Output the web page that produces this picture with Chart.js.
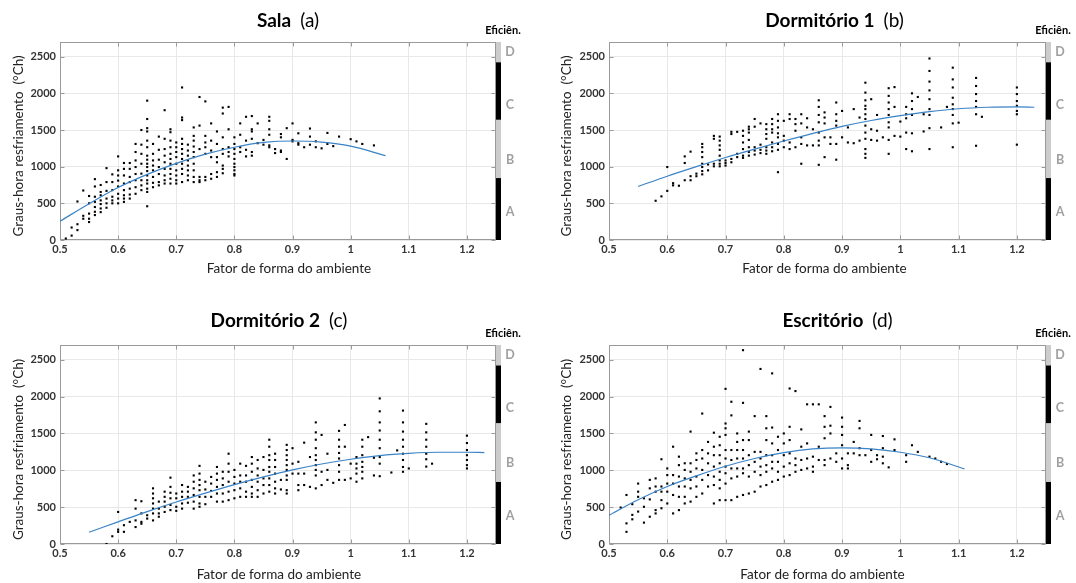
<!DOCTYPE html>
<html><head><meta charset="utf-8">
<script src="https://cdn.jsdelivr.net/npm/chart.js@4.4.0/dist/chart.umd.min.js"></script>
<style>
html,body{margin:0;padding:0;background:#fff;width:1076px;height:583px;overflow:hidden}
canvas{position:absolute;display:block}
</style></head><body>
<canvas id="ca" width="540" height="292" style="left:0;top:0"></canvas>
<canvas id="cb" width="528" height="292" style="left:548px;top:0"></canvas>
<canvas id="cc" width="540" height="279" style="left:0;top:304px"></canvas>
<canvas id="cd" width="528" height="279" style="left:548px;top:304px"></canvas>
<script>
// ---------- shared axes ----------
const xTicks = [0.5, 0.6, 0.7, 0.8, 0.9, 1.0, 1.1, 1.2];
const yTicks = [0, 500, 1000, 1500, 2000, 2500];
const effLabels = ['A', 'B', 'C', 'D'];
const effBreaks = [0, 845, 1640, 2425, 2700];
const effLabelPos = [380, 1098, 1843, 2562];
const effColors = ['#000000', '#cccccc', '#000000', '#cccccc'];
const yTitle = 'Graus-hora resfriamento  (°Ch)';
const xTitle = 'Fator de forma do ambiente';

// ---------- (a) Sala ----------
const salaX = [0.51,0.52,0.53,0.54,0.55,0.56,0.57,0.58,0.59,0.60,0.61,0.62,0.63,0.64,0.65,0.66,0.67,0.68,0.69,0.70,0.71,0.72,0.73,0.74,0.75,0.76,0.77,0.78,0.79,0.80,0.81,0.82,0.83,0.84,0.85,0.86,0.87,0.88,0.89,0.90,0.91,0.92,0.93,0.94,0.95,0.96,0.97,0.98,1.00,1.01,1.02,1.04];
const salaY = [
 [20],[170,60],[525,215,135],[675,330,290],[600,500,360,290,245],
 [830,730,590,520,450,385,340],[750,655,610,540,490,430,380],[980,790,670,565,500,440],
 [895,790,680,590,540,500],[1140,950,880,810,730,630,565,500],[1050,970,880,770,680,610,565,520],
 [1050,970,860,790,700,620,565],[1310,1200,1085,995,900,815,720,630],[1500,1300,1175,1040,905,815,745,680],
 [1900,1650,1525,1480,1355,1265,1150,1095,1040,995,940,880,815,770,700,655,460],
 [1310,1175,1085,1015,950,860,780,720],[1410,1230,1095,995,900,790,745],
 [1770,1380,1240,1150,1060,970,880,815,770],[1510,1470,1355,1265,1175,1105,1040,970,900,835,770],
 [1330,1265,1200,1130,1040,950,880,815,770],[2080,1670,1635,1380,1310,1240,1175,1105,1040,970,900,790],
 [1300,1220,1150,1085,1015,950,880,815],[1535,1420,1355,1275,1200,1130,1040,950,860,790],
 [1950,1560,1240,860,815,790],[1890,1420,1330,1265,1175,860,815],[1590,1355,1220,1130,900,835],
 [1480,1310,1130,1060,925,860],[1805,1725,1400,1240,1175,1015,970,910],[1815,1510,1265,1200,1140],
 [1400,1310,1240,1175,1105,1040,995,950,900,880],[1590,1435,1265,1200],[1680,1355,1230,1140],
 [1690,1510,1480,1380,1200,1150],[1590,1320],[1365,1300],[1680,1625,1510,1435,1290,1265],
 [1240,1185],[1445,1400,1220,1200],[1525,1105],[1590,1365,1345],[1455,1320,1300],[1265],
 [1520,1410,1300],[1345,1265],[1250],[1460,1310],[1280],[1410],[1375],[1345],[1310],[1290]
];
const salaFitX = [0.5,0.55,0.6,0.65,0.7,0.75,0.8,0.85,0.9,0.95,1.0,1.06];
const salaFitY = [255,495,715,895,1045,1170,1265,1330,1350,1335,1280,1150];

// ---------- (b) Dormitório 1 ----------
const dorm1X = [0.58,0.59,0.60,0.61,0.62,0.63,0.64,0.65,0.66,0.67,0.68,0.69,0.70,0.71,0.72,0.73,0.74,0.75,0.76,0.77,0.78,0.79,0.80,0.81,0.82,0.83,0.84,0.85,0.86,0.87,0.88,0.89,0.90,0.91,0.92,0.93,0.94,0.95,0.96,0.97,0.98,0.99,1.00,1.01,1.02,1.03,1.04,1.05,1.07,1.08,1.09,1.10,1.13,1.14,1.20];
const dorm1Y = [
 [535],[595],[995,670],[775,745],[740],[1140,1050,815],[1205,870,815],[905,870],
 [1310,1265,1200,1130,1040,995,940,895],[1030,950],[1420,1380,1040,1005],
 [1410,1355,1290,1230,1150,1085,1040,1005],[1085,1050,1015],[1475,1445,1105,1060],[1475,1175,1130],
 [1490,1420,1330,1240,1150,1120],[1545,1510,1465,1365,1265,1200,1150],[1650,1545,1265,1220,1165],
 [1590,1300,1230,1185],[1580,1510,1445,1380,1265,1220,1175],[1650,1580,1510,1465,1330,1265,1210],
 [1715,1625,1535,1455,1400,1310,1230,925],[1625,1420,1355,1265],[1715,1650,1330,1240],
 [1650,1580,1490,1265],[1715,1590,1400,1310,1040],[1660,1535,1290],[1510,1290],
 [1905,1815,1705,1605,1465,1355,1290,1025],[1740,1670,1590,1400,1130],[1400,1310],
 [1875,1715,1625,1560,1310,1095],[1760,1400],[1535,1330],[1785,1320],[1670,1355],
 [2145,2010,1905,1830,1785,1715,1650,1560,1465,1380,1240,1175,1120],[1920,1510,1365],
 [1705,1490,1355],[1400],[2070,1965,1875,1785,1705,1605,1535,1365,1175],[2085,1815,1420],
 [1615,1410],[1815,1715,1660,1465,1240],[2000,1895,1785,1705,1455,1210],[1950],[1715,1480],
 [2475,2305,2160,2040,1920,1785,1705,1525,1240],[1535],[1815],
 [2350,2190,2080,1940,1850,1785,1705,1590,1265],[1600],[2210,2100,1990,1895,1815,1715,1285],[1680],
 [2080,1990,1895,1830,1760,1715,1300]
];
const dorm1FitX = [0.55,0.6,0.65,0.7,0.75,0.8,0.85,0.9,0.95,1.0,1.05,1.1,1.15,1.2,1.23];
const dorm1FitY = [730,870,1000,1125,1240,1350,1455,1550,1630,1695,1750,1790,1810,1815,1810];

// ---------- (c) Dormitório 2 ----------
const dorm2X = [0.58,0.59,0.60,0.61,0.62,0.63,0.64,0.65,0.66,0.67,0.68,0.69,0.70,0.71,0.72,0.73,0.74,0.75,0.76,0.77,0.78,0.79,0.80,0.81,0.82,0.83,0.84,0.85,0.86,0.87,0.88,0.89,0.90,0.91,0.92,0.93,0.94,0.95,0.96,0.97,0.98,0.99,1.00,1.01,1.02,1.03,1.04,1.05,1.07,1.08,1.09,1.10,1.13,1.14,1.20];
const dorm2Y = [
 [0],[105],[435,195,165],[255,165],[300],[595,480,320,230],[580,415,300,275],[390,345],
 [755,685,620,550,480,415,320],[575,480,415,370],[710,640,575,505,435],[900,775,695,620,530,460],
 [685,620,505,450],[800,710,640,550,480],[775,710,640,560],[930,845,755,665,575,480],
 [1060,955,870,800,730,640,550,505],[845,740,640,540],[910,820,720,640],[1045,955,870,775,685,575],
 [980,890,800,685,575],[1225,1090,980,845,710,595],[1005,910,820,730,620],[1090,930,845,755,640],
 [1060,930,845,710,640],[1180,1090,980,870,775,685,640],[1140,1025,930,845,730,640],
 [1180,1005,890,800,685],[1415,1320,1205,1140,1045,980,890,800,710],[1225,1140,1045,955,845,755,685],
 [870,740],[1345,1275,1205,1140,1070,1005,930,870,730,685],[1300,1090,955],[1115,955,800,730],
 [1375,955,800],[1180,775],[1650,1515,1415,1300,1205,1140,1070,1005,930,755],[1480,980,800],
 [1225,1005,870],[830],[1535,1415,1320,1235,1160,1070,980,870],[1615,1320,870],[1090,890],
 [1180,1090,1025,955,845],[1415,1320,1205,1115,1045,980,890],[1450],[1170,930],
 [1975,1800,1650,1540,1415,1300,1180,1090,920],[970],[1270],
 [1810,1650,1525,1415,1320,1225,1140,1045,980],[1025],[1630,1515,1415,1320,1225,1150,1050],[1090],
 [1470,1370,1275,1205,1140,1070,1025]
];
const dorm2FitX = [0.55,0.6,0.65,0.7,0.75,0.8,0.85,0.9,0.95,1.0,1.05,1.1,1.15,1.2,1.23];
const dorm2FitY = [160,300,440,570,690,805,910,1005,1085,1150,1200,1230,1245,1245,1240];

// ---------- (d) Escritório ----------
const escX = [0.52,0.53,0.54,0.55,0.56,0.57,0.58,0.59,0.60,0.61,0.62,0.63,0.64,0.65,0.66,0.67,0.68,0.69,0.70,0.71,0.72,0.73,0.74,0.75,0.76,0.77,0.78,0.79,0.80,0.81,0.82,0.83,0.84,0.85,0.86,0.87,0.88,0.89,0.90,0.91,0.92,0.93,0.94,0.95,0.96,0.97,0.98,0.99,1.01,1.02,1.03,1.05,1.06,1.07,1.08];
const escY = [
 [495],[665,280,165],[540,395,335],[820,710,640,440],[620,505,290],[870,755,605,370],
 [890,780,710,460,415],[1150,780,710,595,485],[1025,935,820,710,550],[1320,935,820,665,415],
 [1185,1070,915,780,640,460],[1095,1005,890,780,640,550],[1525,1095,980,870,755,575],
 [1230,1140,1025,915,780,640],[1770,1275,1160,1005,870,685],[1385,1230,1095,935,780],
 [1510,1320,1205,1050,915,800,550],[1455,1340,1205,1095,980,870,755,595],
 [2105,1635,1570,1480,1275,1160,1050,960,820,595],[1930,1745,1275,1140,1025,890,595],
 [1500,1385,1275,1160,1025,915,640],[2630,1915,1410,1275,1160,1025,960,665],
 [1525,1410,1205,1070,915,685],[1735,1250,1115,980,710],[2375,1250,1160,1050,935,780],
 [1735,1570,1410,1205,1070,980,800],[2315,1580,1365,1205,1115,1025,845],[1455,1275,1115,980,870],
 [1500,1365,1205,1050,915],[2110,1590,1410,1230,1095,935],[2075,1160,1070,980],[1555,1320,1140,1005],
 [1895,1365,1160,1025],[1895,1185,1050,980],[1895,1320,1140],[1735,1590,1435,1140,1070],
 [1860,1605,1500,1160],[1230,1115],[1715,1590,1480,1340,1160,1025],[1230,1070,1025],[1385,1230],
 [1670,1570,1300,1205],[1205],[1480,1275,1115],[1205,1150],[1465,1300,1185,1095],[1040],[1420,1275],
 [1205,1115],[1340],[1250],[1185],[1160],[1115],[1085]
];
const escFitX = [0.5,0.55,0.6,0.65,0.7,0.75,0.8,0.85,0.9,0.95,1.0,1.05,1.11];
const escFitY = [390,600,780,925,1055,1160,1240,1290,1305,1290,1245,1170,1020];

// ---------- helpers ----------
function toPoints(xs, ys) {
  const pts = [];
  xs.forEach((x, i) => ys[i].forEach(v => pts.push({x: x, y: v})));
  return pts;
}
function toLine(xs, ys) { return xs.map((x, i) => ({x: x, y: ys[i]})); }

const deco = {
  id: 'deco',
  beforeDatasetsDraw(chart) {
    const {ctx, chartArea: ca, scales: {x, y}} = chart;
    ctx.save();
    ctx.strokeStyle = '#9a9a9a'; ctx.lineWidth = 1;
    const L = Math.round(ca.left) + 0.5, T = Math.round(ca.top) + 0.5;
    const R = Math.round(ca.right) - 0.5, B = Math.round(ca.bottom) - 0.5;
    ctx.strokeRect(L, T, R - L, B - T);
    ctx.beginPath();
    xTicks.forEach(v => { const p = Math.round(x.getPixelForValue(v)) + 0.5;
      ctx.moveTo(p, B); ctx.lineTo(p, B - 4); ctx.moveTo(p, T); ctx.lineTo(p, T + 4); });
    yTicks.forEach(v => { const p = Math.round(y.getPixelForValue(v)) + 0.5;
      ctx.moveTo(L, p); ctx.lineTo(L + 4, p); ctx.moveTo(R, p); ctx.lineTo(R - 4, p); });
    ctx.stroke();
    ctx.restore();
  },
  afterDraw(chart, args, o) {
    const {ctx, chartArea: ca, scales: {y}} = chart;
    ctx.save();
    // efficiency bar
    const bx = Math.round(ca.right);
    for (let i = 0; i < effLabels.length; i++) {
      const y1 = y.getPixelForValue(effBreaks[i]), y2 = y.getPixelForValue(effBreaks[i + 1]);
      ctx.fillStyle = effColors[i];
      ctx.fillRect(bx, y2, 5, y1 - y2);
    }
    ctx.fillStyle = '#a0a0a0';
    ctx.font = 'bold 12.5px Lato';
    ctx.textAlign = 'center'; ctx.textBaseline = 'middle';
    effLabels.forEach((l, i) => ctx.fillText(l, bx + 14, y.getPixelForValue(effLabelPos[i])));
    ctx.fillStyle = '#000';
    ctx.font = 'bold 11px Lato';
    ctx.fillText('Eficiên.', bx + 7, ca.top - 12);
    // title
    ctx.font = 'bold 19px Lato';
    const w1 = ctx.measureText(o.bold).width;
    ctx.font = '19px Lato';
    const w2 = ctx.measureText(o.norm).width;
    const gap = 9, tw = w1 + gap + w2;
    const cx = (ca.left + ca.right) / 2 + o.tdx;
    ctx.textAlign = 'left'; ctx.fillStyle = '#000';
    ctx.font = 'bold 19px Lato';
    ctx.fillText(o.bold, cx - tw / 2, o.ty);
    ctx.font = '19px Lato';
    ctx.fillText(o.norm, cx - tw / 2 + w1 + gap, o.ty);
    // x title
    ctx.font = '13.5px Lato'; ctx.fillStyle = '#222'; ctx.textAlign = 'center';
    ctx.fillText(xTitle, (ca.left + ca.right) / 2 + o.xdx, o.xty);
    // y title
    ctx.translate(19, (ca.top + ca.bottom) / 2 + 5);
    ctx.rotate(-Math.PI / 2);
    ctx.fillText(yTitle, 0, 0);
    ctx.restore();
  }
};

function makeChart(id, pts, fit, geo, deco_o) {
  const cv = document.getElementById(id);
  const W = cv.width, H = cv.height;
  new Chart(cv, {
    type: 'scatter',
    data: { datasets: [
      { data: pts, pointStyle: 'rect', pointRadius: 1.5, pointHoverRadius: 1.5,
        backgroundColor: '#000', borderWidth: 0, order: 2 },
      { type: 'line', data: fit, borderColor: '#3a83c6', borderWidth: 1.2, pointRadius: 0,
        fill: false, cubicInterpolationMode: 'monotone', order: 1 }
    ]},
    options: {
      responsive: false, animation: false, events: [],
      layout: { padding: { top: geo.top, right: W - geo.right, left: 0, bottom: 0 } },
      plugins: { legend: { display: false }, tooltip: { enabled: false }, deco: deco_o },
      scales: {
        x: { type: 'linear', min: 0.5, max: 1.25,
          afterBuildTicks: s => { s.ticks = xTicks.map(v => ({value: v})); },
          afterFit: s => { s.height = H - geo.bottom; },
          ticks: { callback: v => String(+Number(v).toFixed(2)), font: { family: 'Lato', weight: 'bold', size: 11 },
            color: '#333', padding: 3, maxRotation: 0, autoSkip: false },
          grid: { color: '#e8e8e8', drawTicks: false }, border: { display: false } },
        y: { type: 'linear', min: 0, max: 2700,
          afterBuildTicks: s => { s.ticks = yTicks.map(v => ({value: v})); },
          afterFit: s => { s.width = geo.left; },
          ticks: { callback: v => String(v), font: { family: 'Lato', weight: 'bold', size: 11 }, color: '#333', padding: 4, autoSkip: false },
          grid: { color: '#e8e8e8', drawTicks: false }, border: { display: false } }
      }
    },
    plugins: [deco]
  });
}

makeChart('ca', toPoints(salaX, salaY), toLine(salaFitX, salaFitY),
  {left: 60, top: 42, right: 496, bottom: 240},
  {bold: 'Sala', norm: '(a)', tdx: 10, ty: 21, xdx: 11, xty: 269});
makeChart('cb', toPoints(dorm1X, dorm1Y), toLine(dorm1FitX, dorm1FitY),
  {left: 61, top: 42, right: 498, bottom: 240},
  {bold: 'Dormitório 1', norm: '(b)', tdx: 7, ty: 21, xdx: -3, xty: 269});
makeChart('cc', toPoints(dorm2X, dorm2Y), toLine(dorm2FitX, dorm2FitY),
  {left: 60, top: 41, right: 496, bottom: 240},
  {bold: 'Dormitório 2', norm: '(c)', tdx: 1, ty: 17, xdx: 1, xty: 271});
makeChart('cd', toPoints(escX, escY), toLine(escFitX, escFitY),
  {left: 61, top: 41, right: 498, bottom: 240},
  {bold: 'Escritório', norm: '(d)', tdx: 10, ty: 17, xdx: -5, xty: 271});
</script>
</body></html>
